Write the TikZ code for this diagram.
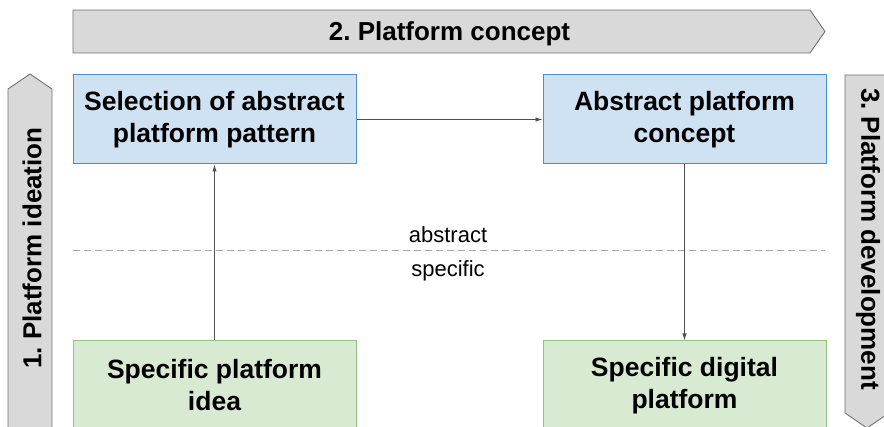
\documentclass[tikz,border=0pt]{standalone}
\usepackage{fontspec}
\setmainfont{Liberation Sans}
\frenchspacing
\usetikzlibrary{positioning,arrows.meta}
\definecolor{absfill}{HTML}{CFE2F3}
\definecolor{absdraw}{HTML}{4A90D0}
\definecolor{specfill}{HTML}{D9EAD3}
\definecolor{specdraw}{HTML}{93C47D}
\definecolor{phasefill}{HTML}{D9D9D9}
\definecolor{phasedraw}{HTML}{727272}
\definecolor{linkgray}{HTML}{505050}
\definecolor{dividergray}{HTML}{A8A8A8}

\begin{document}
\begin{tikzpicture}[x=1pt,y=-1pt,
      box/.style={draw,line width=1pt,minimum width=283pt,minimum height=89pt,
        align=center,inner sep=0pt,font=\fontsize{26.5}{32}\selectfont\bfseries},
      abs/.style={box,fill=absfill,draw=absdraw},
      spec/.style={box,fill=specfill,draw=specdraw},
      phase/.style={fill=phasefill,draw=phasedraw,line width=0.9pt},
      phaselabel/.style={inner sep=0pt,font=\fontsize{26}{30}\selectfont\bfseries},
      level/.style={inner sep=0pt,font=\fontsize{22}{26}\selectfont},
      link/.style={draw=linkgray,line width=0.9pt,-{Latex[length=7pt,width=4.5pt]}},
      >=Latex]
      \useasboundingbox (0,0) rectangle (884,427);
      \clip (0,0) rectangle (884,427);
      % phase arrows
      \draw[phase] (73,10) -- (810,10) -- (825,31.5) -- (810,53) -- (73,53) -- cycle;
      \draw[phase] (8,440) -- (8,89) -- (30,74) -- (52,89) -- (52,440) -- cycle;
      \draw[phase] (845,75) -- (889,75) -- (889,413) -- (867,428) -- (845,413) -- cycle;
      \node[phaselabel] (concepthead) at (449.5,33.5) {2. Platform concept};
      \node[phaselabel,rotate=90] (ideation) at (32,248) {1. Platform ideation};
      \node[phaselabel,rotate=-90] (development) at (868,239) {3. Platform development};
      % abstract / specific divider
      \coordinate (divl) at (73,250);
      \coordinate (divr) at (825,250);
      \draw[dividergray,line width=0.8pt,dash pattern=on 7pt off 4pt] (divl) -- (divr);
      \node[level] (abstract) at (448,234.5) {abstract};
      \node[level] (specific) at (448,271) {specific};
      % boxes
      \node[abs] (pattern) at (214.5,119.5) {Selection of abstract\\platform pattern};
      \node[abs,right=186pt of pattern] (concept) {Abstract platform\\concept};
      \node[spec,below=176pt of pattern] (idea) {Specific platform\\idea};
      \node[spec,below=176pt of concept] (digital) {Specific digital\\platform};
      \draw[link] (idea) -- (pattern);
      \draw[link] (pattern) -- (concept);
      \draw[link] (concept) -- (digital);
    \end{tikzpicture}
\end{document}
